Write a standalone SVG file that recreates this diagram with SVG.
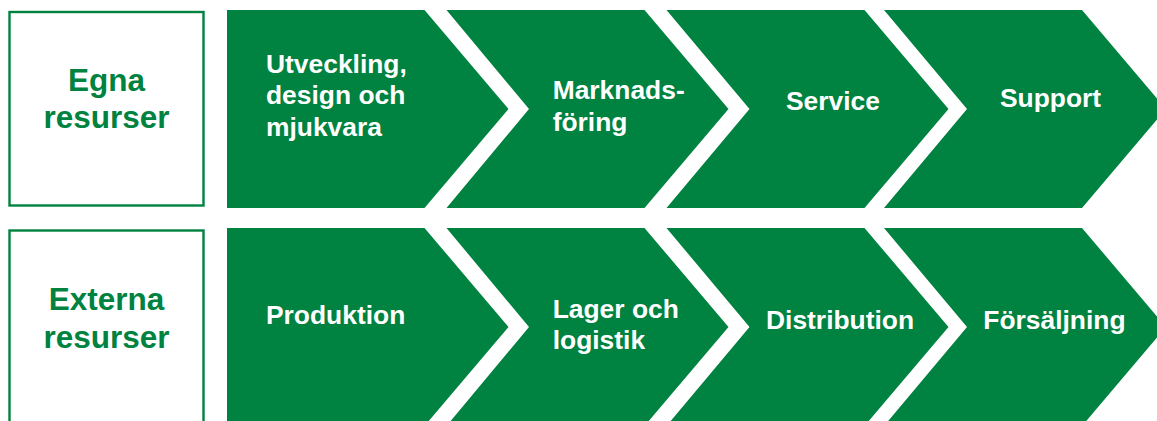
<svg xmlns="http://www.w3.org/2000/svg" width="1157" height="421" viewBox="0 0 1157 421">
<style>
.chev{fill:#008240;}
.lbl{fill:#ffffff;stroke:#008240;stroke-width:2.4;}
.lt{font-family:"Liberation Sans",Arial,sans-serif;font-weight:bold;font-size:31.5px;fill:#008240;text-anchor:middle;}
.ct{font-family:"Liberation Sans",Arial,sans-serif;font-weight:bold;font-size:26.4px;fill:#ffffff;}
</style>
<rect width="1157" height="421" fill="#ffffff"/>
<g id="row1-label">
<rect class="lbl" x="9.5" y="12" width="194" height="193.5"/>
<text class="lt" x="106.5" y="90.7">Egna</text>
<text class="lt" x="106.5" y="128">resurser</text>
</g>
<g id="row2-label">
<rect class="lbl" x="9.5" y="230.5" width="194" height="200"/>
<text class="lt" x="106.5" y="310">Externa</text>
<text class="lt" x="106.5" y="347.5">resurser</text>
</g>
<g id="utveckling">
<polygon class="chev" points="227,10 424.5,10 508.5,109 424.5,208 227,208"/>
<text class="ct" x="266" y="72.5">Utveckling,</text>
<text class="ct" x="266" y="104">design och</text>
<text class="ct" x="266" y="135.5">mjukvara</text>
</g>
<g id="marknadsforing">
<polygon class="chev" points="446.5,10 644.5,10 728.5,109 644.5,208 446.5,208 529,109"/>
<text class="ct" x="552.7" y="98.5">Marknads-</text>
<text class="ct" x="552.7" y="130.5">föring</text>
</g>
<g id="service">
<polygon class="chev" points="666.5,10 864.5,10 948.5,109 864.5,208 666.5,208 749.5,109"/>
<text class="ct" x="786" y="110">Service</text>
</g>
<g id="support">
<polygon class="chev" points="884,10 1082,10 1166,109 1082,208 884,208 967,109"/>
<text class="ct" x="1000" y="107">Support</text>
</g>
<g id="produktion">
<polygon class="chev" points="227,228 424.5,228 508.5,327 424.5,426 227,426"/>
<text class="ct" x="266" y="324">Produktion</text>
</g>
<g id="lager">
<polygon class="chev" points="446.5,228 644.5,228 728.5,327 644.5,426 446.5,426 529,327"/>
<text class="ct" x="552.7" y="317.5">Lager och</text>
<text class="ct" x="552.7" y="348.7">logistik</text>
</g>
<g id="distribution">
<polygon class="chev" points="666.5,228 864.5,228 948.5,327 864.5,426 666.5,426 749.5,327"/>
<text class="ct" x="766" y="329">Distribution</text>
</g>
<g id="forsaljning">
<polygon class="chev" points="884,228 1082,228 1166,327 1082,426 884,426 967,327"/>
<text class="ct" x="983.3" y="328.5">Försäljning</text>
</g>
<g id="connectors"></g>
</svg>
